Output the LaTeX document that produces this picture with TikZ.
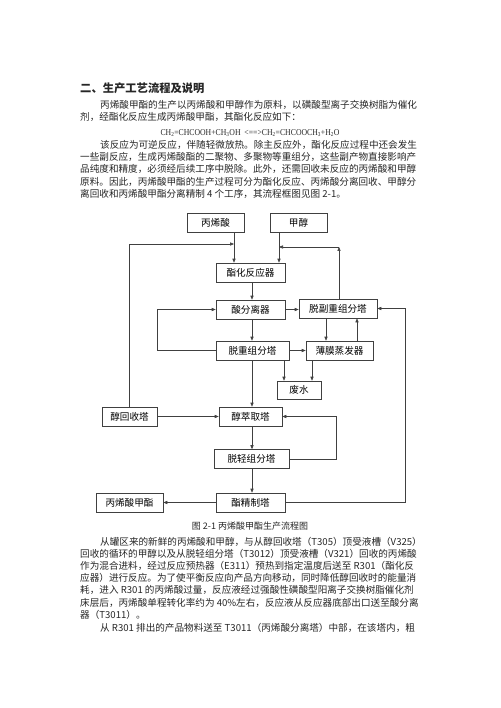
\documentclass[tikz,border=0pt]{standalone}
\usepackage{fontspec}
\usepackage{graphicx}
\setmainfont{Noto Sans CJK SC}
\newfontfamily\tnr{Liberation Serif}
\usetikzlibrary{arrows.meta}
\tikzstyle{arrow} = [->,>={Triangle[length=4pt,width=3.2pt]},line width=0.6pt,draw=black!75]
\tikzstyle{block} = [draw=black!75,line width=0.6pt,minimum height=19pt,inner sep=0pt,font=\fontsize{9.6}{11}\selectfont]
\tikzstyle{para} = [anchor=west,inner sep=0pt,font=\fontsize{9.6}{11}\selectfont,text=black!85]

\begin{document}
\begin{tikzpicture}[x=1pt,y=-1pt]
	\useasboundingbox (0,0) rectangle (500,708);
	\fill[white] (0,0) rectangle (500,708);
	\def \pl {80}
	\def \pi {100}

	% text above the chart
	\node[para,font=\fontsize{11.3}{13}\selectfont\bfseries] (head) at (\pl,88) {二、生产工艺流程及说明};
	\node[para] (pa) at (\pi,105) {丙烯酸甲酯的生产以丙烯酸和甲醇作为原料，以磺酸型离子交换树脂为催化};
	\node[para] (pb) at (\pl,117) {剂，经酯化反应生成丙烯酸甲酯，其酯化反应如下：};
	\node[inner sep=0pt,text=black!85,font=\tnr\fontsize{9}{10}\selectfont] (eq) at (250,133)
		{\scalebox{0.86}[1]{CH\textsubscript{2}=CHCOOH+CH\textsubscript{3}OH\ \ <==>CH\textsubscript{2}=CHCOOCH\textsubscript{3}+H\textsubscript{2}O}};
	\node[para] (pc) at (\pi,145) {该反应为可逆反应，伴随轻微放热。除主反应外，酯化反应过程中还会发生};
	\node[para] (pd) at (\pl,157) {一些副反应，生成丙烯酸酯的二聚物、多聚物等重组分，这些副产物直接影响产};
	\node[para] (pe) at (\pl,169) {品纯度和精度，必须经后续工序中脱除。此外，还需回收未反应的丙烯酸和甲醇};
	\node[para] (pf) at (\pl,182) {原料。因此，丙烯酸甲酯的生产过程可分为酯化反应、丙烯酸分离回收、甲醇分};
	\node[para] (pg) at (\pl,194) {离回收和丙烯酸甲酯分离精制 4 个工序，其流程框图见图 2-1。};

	% boxes
	\node[block,minimum width=57pt] (bxs) at (215.5,223) {丙烯酸};
	\node[block,minimum width=57pt] (jc) at (298.5,223) {甲醇};
	\node[block,minimum width=69pt] (zhq) at (250.5,272.5) {酯化反应器};
	\node[block,minimum width=69pt] (sfl) at (250.5,309.5) {酸分离器};
	\node[block,minimum width=78pt] (tfz) at (338,308.5) {脱副重组分塔};
	\node[block,minimum width=73pt] (tzz) at (252.5,350.5) {脱重组分塔};
	\node[block,minimum width=67pt] (bmz) at (339.5,350.5) {薄膜蒸发器};
	\node[block,minimum width=44pt,minimum height=18pt] (fs) at (299,390) {废水};
	\node[block,minimum width=55pt] (chs) at (129.5,416.5) {醇回收塔};
	\node[block,minimum width=63pt] (ccq) at (250.5,416.5) {醇萃取塔};
	\node[block,minimum width=75pt] (tqz) at (251.5,459) {脱轻组分塔};
	\node[block,minimum width=67pt] (bjz) at (129.5,502.5) {丙烯酸甲酯};
	\node[block,minimum width=69pt] (jzt) at (250.5,502.5) {酯精制塔};

	% connectors
	\coordinate (mid) at (252,0);
	\coordinate (ca) at (234,244);
	\coordinate (cb) at (279,247);
	\coordinate (cc) at (339,247);
	\coordinate (cd) at (326,0);
	\coordinate (ce) at (357,0);
	\coordinate (cf) at (405,0);
	\coordinate (cg) at (284,0);
	\coordinate (ch) at (312,0);
	\coordinate (ci) at (336,0);

	\draw [arrow] (bxs.south -| ca) -- (zhq.north -| ca);
	\draw [arrow] (jc.south -| cb) -- (zhq.north -| cb);
	\draw [arrow] (chs.north) |- (ca);
	\draw [arrow] (tfz.north -| cc) -- (cc);
	\draw [arrow] (cc) -- (cb);
	\draw [arrow] (zhq.south -| mid) -- (sfl.north -| mid);
	\draw [arrow] (sfl.east) -- (sfl.east -| tfz.west);
	\draw [arrow] (sfl.south -| mid) -- (tzz.north -| mid);
	\draw [arrow] (tzz.west) -- ++(-58,0) |- (sfl.west);
	\draw [arrow] (tfz.south -| cd) -- (bmz.north -| cd);
	\draw [arrow] (bmz.north -| ce) -- (tfz.south -| ce);
	\draw [arrow] (tzz.east) -- (bmz.west);
	\draw [arrow] (jzt.east) -| (cf |- tfz.east) -- (tfz.east);
	\draw [arrow] (tzz.south -| mid) -- (ccq.north -| mid);
	\draw [arrow] (tzz.south -| cg) -- (fs.north -| cg);
	\draw [arrow] (bmz.south -| ch) -- (fs.north -| ch);
	\draw [arrow] (chs.east) -- (ccq.west);
	\draw [arrow] (ccq.south -| mid) -- (tqz.north -| mid);
	\draw [arrow] (tqz.east) -| (ci |- ccq.east) -- (ccq.east);
	\draw [arrow] (tqz.south -| mid) -- (jzt.north -| mid);
	\draw [arrow] (jzt.west) -- (bjz.east);

	\node[inner sep=0pt,text=black!85,font=\fontsize{9}{10}\selectfont] (cap) at (250,526) {图 2-1 丙烯酸甲酯生产流程图};

	% text below the chart
	\node[para] (qa) at (\pi,542) {从罐区来的新鲜的丙烯酸和甲醇，与从醇回收塔（T305）顶受液槽（V325）};
	\node[para] (qb) at (\pl,554) {回收的循环的甲醇以及从脱轻组分塔（T3012）顶受液槽（V321）回收的丙烯酸};
	\node[para] (qc) at (\pl,566) {作为混合进料，经过反应预热器（E311）预热到指定温度后送至 R301（酯化反};
	\node[para] (qd) at (\pl,578) {应器）进行反应。为了使平衡反应向产品方向移动，同时降低醇回收时的能量消};
	\node[para] (qe) at (\pl,590) {耗，进入 R301 的丙烯酸过量，反应液经过强酸性磺酸型阳离子交换树脂催化剂};
	\node[para] (qf) at (\pl,603) {床层后，丙烯酸单程转化率约为 40\%左右，反应液从反应器底部出口送至酸分离};
	\node[para] (qg) at (\pl,615) {器（T3011）。};
	\node[para] (qh) at (\pi,628) {从 R301 排出的产品物料送至 T3011（丙烯酸分离塔）中部，在该塔内，粗};
\end{tikzpicture}
\end{document}
